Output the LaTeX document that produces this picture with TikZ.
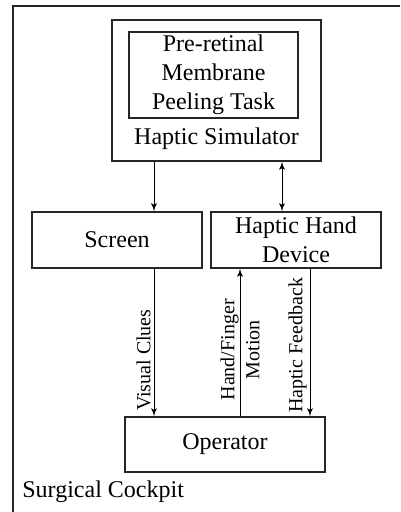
\documentclass[tikz,border=0pt]{standalone}
\usepackage{fontspec}
\setmainfont{Liberation Serif}
\usetikzlibrary{arrows,positioning,calc}
\tikzset{
block/.style = {draw=black!85, line width=0.75pt, rectangle, inner sep=0pt, align=center, font=\fontsize{12}{14.5}\selectfont},
plain/.style = {inner sep=0pt, font=\fontsize{12}{14.5}\selectfont},
lbl/.style   = {rotate=90, anchor=south, inner sep=1.5pt, font=\fontsize{10}{12}\selectfont},
lblc/.style  = {rotate=90, align=center, inner sep=0pt, font=\fontsize{10}{12.5}\selectfont},
frame/.style = {draw=black!85, line width=1pt},
col/.style   = {coordinate}
}

\begin{document}
\begin{tikzpicture}[x=0.5pt, y=-0.5pt, >=latex', thin]
  \useasboundingbox (0,0) rectangle (400,512);
  \draw [frame] (400,6) -- (13,6) -- (13,512);

  \node [block, minimum width=104.5pt, minimum height=70.5pt] (sim)     at (216.5,90.5) {};
  \node [block, minimum width=84.5pt, minimum height=43pt]    (task)    at (213.5,75)   {Pre-retinal\\Membrane\\Peeling Task};
  \node [plain]                                               (simtxt)  at (216.5,139)  {Haptic Simulator};
  \node [block, minimum width=85pt, minimum height=28pt]      (scr)     at (117,240)    {Screen};
  \node [block, minimum width=85pt, minimum height=28pt]      (hhd)     at (296,240)    {Haptic Hand\\Device};
  \node [block, minimum width=100pt, minimum height=27.5pt]   (op)      at (225,444.5)  {Operator};
  \node [plain, anchor=base west]                             (cockpit) at (22,497)     {Surgical Cockpit};

  \coordinate (colvc)  at (154,0);
  \coordinate (colsim) at (282,0);
  \coordinate (colhm)  at (240,0);
  \coordinate (colhf)  at (310,0);

  \draw [->]  (sim.south -| colvc)  -- (scr.north -| colvc);
  \draw [<->] (sim.south -| colsim) -- (hhd.north -| colsim);
  \draw [->]  (scr.south -| colvc)  -- node [lbl, pos=0.62] {Visual Clues} (op.north -| colvc);
  \draw [->]  (op.north -| colhm)   -- node [lblc, pos=0.45] {Hand/Finger\\Motion} (hhd.south -| colhm);
  \draw [->]  (hhd.south -| colhf)  -- node [lbl, pos=0.52] {Haptic Feedback} (op.north -| colhf);
\end{tikzpicture}
\end{document}
